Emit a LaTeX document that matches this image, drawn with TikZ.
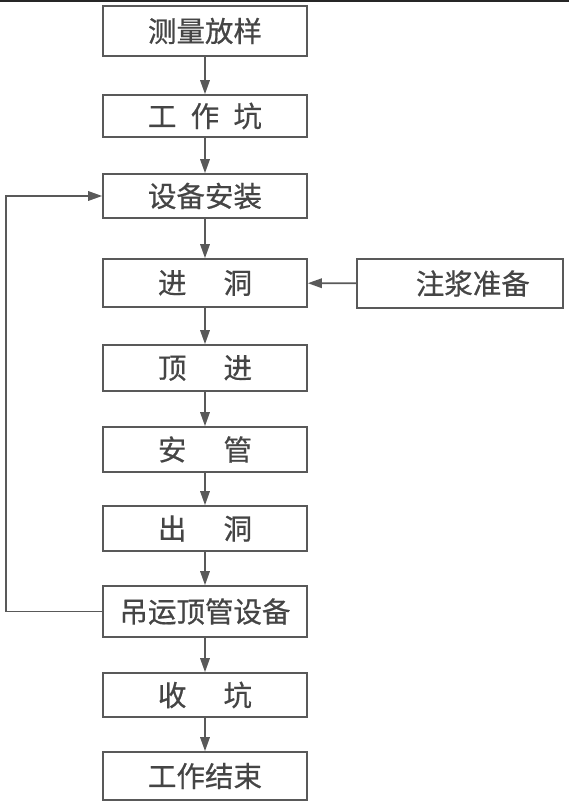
\documentclass[tikz,border=0pt]{standalone}
\usepackage{fontspec}
\newfontfamily\cjk{Noto Sans CJK SC}[FakeBold=0.6]
\usetikzlibrary{arrows.meta}
\definecolor{ln}{HTML}{595959}
\definecolor{tx}{HTML}{454545}
\tikzset{
  box/.style={draw=ln, line width=1.7pt, fill=white, inner sep=0pt, text=tx,
    font=\cjk\fontsize{28.5}{28.5}\selectfont},
  conn/.style={draw=ln, line width=1.7pt, -{Triangle[length=14pt,width=9.5pt]}}
}
\newcommand{\bx}[4]{\node[box, minimum width=204pt, minimum height={(#3-#2)*1pt}] (#1) at (205,{(#2+#3)/2}) {#4};}
\begin{document}
\begin{tikzpicture}[x=1pt,y=-1pt]
\useasboundingbox (0,0) rectangle (569,805);
\fill[white] (0,0) rectangle (569,805);
\draw[line width=2pt, black!85] (0,1) -- (569,1);
\bx{a}{6}{56}{测量放样}
\bx{b}{95}{137}{工\hspace{0.5em}作\hspace{0.5em}坑}
\bx{c}{174}{218}{设备安装}
\bx{d}{259}{307}{进\hspace{1.3em}洞}
\bx{e}{345}{391}{顶\hspace{1.3em}进}
\bx{f}{427}{472}{安\hspace{1.3em}管}
\bx{g}{506}{551}{出\hspace{1.3em}洞}
\bx{h}{586}{637}{吊运顶管设备}
\bx{i}{673}{717}{收\hspace{1.3em}坑}
\bx{j}{752}{800}{工作结束}
\node[box, minimum width=206pt, minimum height=49pt] (k) at (460,283.5) {\hspace{0.9em}注浆准备};
\draw[conn] (a) -- (b);
\draw[conn] (b) -- (c);
\draw[conn] (c) -- (d);
\draw[conn] (d) -- (e);
\draw[conn] (e) -- (f);
\draw[conn] (f) -- (g);
\draw[conn] (g) -- (h);
\draw[conn] (h) -- (i);
\draw[conn] (i) -- (j);
\draw[conn] (k) -- (d);
\coordinate (p1) at (6,611.5);
\coordinate (p2) at (6,196);
\draw[conn] (h.west) -- (p1) -- (p2) -- (c.west);
\end{tikzpicture}
\end{document}
